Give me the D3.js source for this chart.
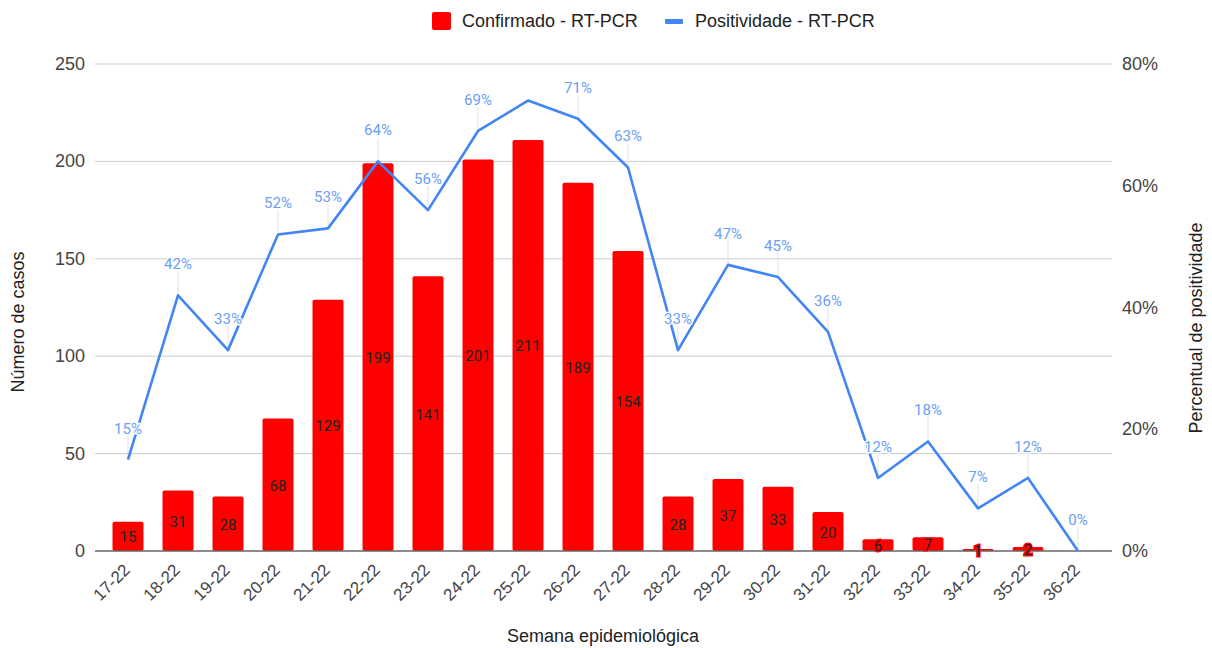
<!DOCTYPE html>
<html>
<head>
  <meta charset="UTF-8">
  <style>
    body { margin: 0; background: #fff; }
    text { font-family: "Liberation Sans", Arial, sans-serif; }
    .lbl { font-family: Roboto, "Noto Sans", sans-serif; }
  </style>
</head>
<body>
  <svg></svg>
<script src="https://d3js.org/d3.v7.min.js"></script>
<script>
let width = 1212,
    height = 648;

// data
let semanas = ["17-22", "18-22", "19-22", "20-22", "21-22", "22-22", "23-22", "24-22", "25-22", "26-22",
               "27-22", "28-22", "29-22", "30-22", "31-22", "32-22", "33-22", "34-22", "35-22", "36-22"];
let confirmados = [15, 31, 28, 68, 129, 199, 141, 201, 211, 189, 154, 28, 37, 33, 20, 6, 7, 1, 2, 0];
let positividade = [15, 42, 33, 52, 53, 64, 56, 69, 74, 71, 63, 33, 47, 45, 36, 12, 18, 7, 12, 0];
// 25-22 has no label in the original
let posLabels = ["15%", "42%", "33%", "52%", "53%", "64%", "56%", "69%", null, "71%",
                 "63%", "33%", "47%", "45%", "36%", "12%", "18%", "7%", "12%", "0%"];
let leftTicks = [0, 50, 100, 150, 200, 250];
let rightTicks = [0, 20, 40, 60, 80];

let svg = d3.select("svg")
    .attr("width", width)
    .attr("height", height);

let x = d3.scaleBand()
    .domain(semanas)
    .range([103, 1103])
    .paddingInner(0.38)
    .paddingOuter(0.19);

let yL = d3.scaleLinear().domain([0, 250]).range([551, 64]);
let yR = d3.scaleLinear().domain([0, 80]).range([551, 64]);

let gridLeft = 95, gridRight = 1112;

// gridlines
svg.append("g")
  .selectAll("line")
  .data(leftTicks.slice(1))
  .enter()
  .append("line")
    .attr("x1", gridLeft)
    .attr("x2", gridRight)
    .attr("y1", d => yL(d))
    .attr("y2", d => yL(d))
    .attr("stroke", "#cccccc")
    .attr("stroke-width", 1);

// left axis labels
svg.append("g")
  .selectAll("text")
  .data(leftTicks)
  .enter()
  .append("text")
    .attr("x", 85)
    .attr("y", d => yL(d) + 6)
    .attr("text-anchor", "end")
    .attr("font-size", 18)
    .attr("fill", "#444")
    .text(d => d);

// right axis labels
svg.append("g")
  .selectAll("text")
  .data(rightTicks)
  .enter()
  .append("text")
    .attr("x", 1122)
    .attr("y", d => yR(d) + 6)
    .attr("font-size", 18)
    .attr("fill", "#444")
    .text(d => d + "%");

// bars
let cx = d => x(d) + x.bandwidth() / 2;

svg.append("g")
  .selectAll("path")
  .data(semanas)
  .enter()
  .filter((d, i) => confirmados[i] > 0)
  .append("rect")
    .attr("x", d => x(d))
    .attr("width", x.bandwidth())
    .attr("y", (d, i) => yL(confirmados[semanas.indexOf(d)]))
    .attr("height", d => 551 - yL(confirmados[semanas.indexOf(d)]))
    .attr("rx", 2)
    .attr("fill", "#ff0000");

// baseline
svg.append("line")
    .attr("x1", gridLeft)
    .attr("x2", gridRight)
    .attr("y1", 551)
    .attr("y2", 551)
    .attr("stroke", "#666")
    .attr("stroke-width", 1.5);

// bar labels (centred in the bar, red halo)
svg.append("g")
  .selectAll("text")
  .data(semanas)
  .enter()
  .filter((d, i) => confirmados[i] > 0)
  .append("text")
    .attr("class", "lbl")
    .attr("x", cx)
    .attr("y", d => (yL(confirmados[semanas.indexOf(d)]) + 551) / 2 + 6)
    .attr("text-anchor", "middle")
    .attr("font-size", 15)
    .attr("fill", "#222")
    .attr("stroke", "#ff0000")
    .attr("stroke-width", 3)
    .attr("paint-order", "stroke")
    .text(d => confirmados[semanas.indexOf(d)]);

// stems of the line labels
let lineIdx = d3.range(semanas.length);

svg.append("g")
  .selectAll("line")
  .data(lineIdx.filter(i => posLabels[i]))
  .enter()
  .append("line")
    .attr("x1", i => cx(semanas[i]))
    .attr("x2", i => cx(semanas[i]))
    .attr("y1", i => yR(positividade[i]))
    .attr("y2", i => yR(positividade[i]) - 24)
    .attr("stroke", "#e0e0e0")
    .attr("stroke-width", 1);

// line
let line = d3.line()
    .x(i => cx(semanas[i]))
    .y(i => yR(positividade[i]));

svg.append("path")
    .datum(lineIdx)
    .attr("d", line)
    .attr("fill", "none")
    .attr("stroke", "#4285f4")
    .attr("stroke-width", 2.6)
    .attr("stroke-linejoin", "round");

// line labels
svg.append("g")
  .selectAll("text")
  .data(lineIdx.filter(i => posLabels[i]))
  .enter()
  .append("text")
    .attr("class", "lbl")
    .attr("x", i => cx(semanas[i]))
    .attr("y", i => yR(positividade[i]) - 26)
    .attr("text-anchor", "middle")
    .attr("font-size", 15)
    .attr("fill", "#6b9ef5")
    .attr("stroke", "#fff")
    .attr("stroke-width", 3)
    .attr("paint-order", "stroke")
    .text(i => posLabels[i]);

// x tick labels
svg.append("g")
  .selectAll("text")
  .data(semanas)
  .enter()
  .append("text")
    .attr("transform", d => "translate(" + (cx(d) + 3) + ",571) rotate(-45)")
    .attr("text-anchor", "end")
    .attr("font-size", 17)
    .attr("fill", "#444")
    .text(d => d);

// axis titles
svg.append("text")
    .attr("transform", "translate(24,322) rotate(-90)")
    .attr("text-anchor", "middle")
    .attr("font-size", 18)
    .attr("fill", "#222")
    .text("Número de casos");

svg.append("text")
    .attr("transform", "translate(1202,328) rotate(-90)")
    .attr("text-anchor", "middle")
    .attr("font-size", 18)
    .attr("fill", "#222")
    .text("Percentual de positividade");

svg.append("text")
    .attr("x", 603)
    .attr("y", 642)
    .attr("text-anchor", "middle")
    .attr("font-size", 18)
    .attr("fill", "#222")
    .text("Semana epidemiológica");

// legend
let legend = svg.append("g");
legend.append("rect")
    .attr("x", 432).attr("y", 12)
    .attr("width", 19).attr("height", 18)
    .attr("rx", 2)
    .attr("fill", "#ff0000");
legend.append("text")
    .attr("x", 462).attr("y", 27)
    .attr("font-size", 18)
    .attr("fill", "#222")
    .text("Confirmado - RT-PCR");
legend.append("rect")
    .attr("x", 665).attr("y", 19)
    .attr("width", 18).attr("height", 5)
    .attr("rx", 1)
    .attr("fill", "#4285f4");
legend.append("text")
    .attr("x", 695).attr("y", 27)
    .attr("font-size", 18)
    .attr("fill", "#222")
    .text("Positividade - RT-PCR");
</script>
</body>
</html>
